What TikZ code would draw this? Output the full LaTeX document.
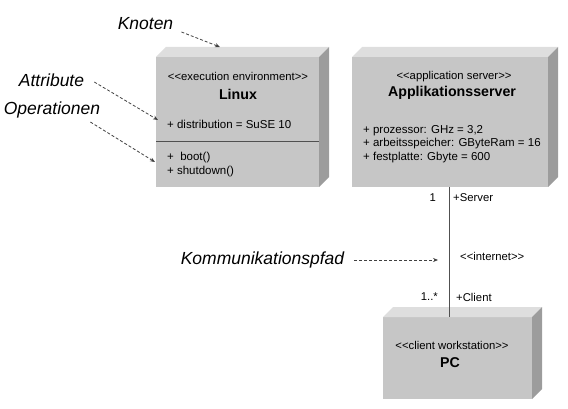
\documentclass[tikz,border=0pt]{standalone}
\usepackage{fontspec}
\setmainfont{Liberation Sans}
\usetikzlibrary{arrows.meta}

\definecolor{vorne}{HTML}{C6C6C6}
\definecolor{oben}{HTML}{DEDEDE}
\definecolor{rechts}{HTML}{9C9C9C}
\definecolor{linie}{HTML}{505050}
\definecolor{pfeilgrau}{HTML}{404040}

\begin{document}
\begin{tikzpicture}[x=1pt,y=-1pt,
		knoten/.style={
			fill=vorne,inner sep=0pt,outer sep=0pt,
		},
		deckel/.style={fill=oben},
		seite/.style={fill=rechts},
		stereo/.style={font=\fontsize{11.3}{13}\selectfont,inner sep=0pt},
		titel/.style={font=\fontsize{14.2}{16}\selectfont\bfseries,inner sep=0pt},
		eintrag/.style={
			font=\fontsize{11.5}{13.8}\selectfont,inner sep=0pt,anchor=west,align=left,
		},
		hinweis/.style={font=\fontsize{17.5}{20}\selectfont\itshape,inner sep=1pt},
		pfeil/.style={
			draw=pfeilgrau,dash pattern=on 3pt off 2pt,line width=.8pt,
			-{Stealth[length=5pt,width=4pt]},
		},
	]

	\useasboundingbox (0,0) rectangle (568,409);

	% the three nodes (front faces)
	\node [knoten,minimum width=163pt,minimum height=130pt] at (237.5,122) (linux) {};
	\node [knoten,minimum width=196pt,minimum height=130pt] at (450,122) (app) {};
	\node [knoten,minimum width=149pt,minimum height=82pt] at (457.5,358) (pc) {};

	% top and side faces
	\foreach \n in {linux,app,pc} {
		\fill [deckel] (\n.north west) -- ++(10,-10) -- ([shift={(10,-10)}]\n.north east) -- (\n.north east) -- cycle;
		\fill [seite] (\n.north east) -- ++(10,-10) -- ([shift={(10,-10)}]\n.south east) -- (\n.south east) -- cycle;
	}

	% Linux
	\node [stereo] at (238,76) (linux-st) {{<}{<}execution environment{>}{>}};
	\node [titel] at (238,94) (linux-name) {Linux};
	\node [eintrag] at (167,124) (linux-attr) {+ distribution = SuSE 10};
	\draw [linie,line width=1pt] ([yshift=-20pt]linux.west) -- ([yshift=-20pt]linux.east);
	\node [eintrag] at (167,164.5) (linux-ops) {+\ \ boot()\\+ shutdown()};

	% Applikationsserver
	\node [stereo] at (454,77) (app-st) {{<}{<}application server{>}{>}};
	\node [titel] at (452,93) (app-name) {Applikationsserver};
	\node [eintrag] at (363,144) (app-attr) {+ prozessor: GHz = 3,2\\+ arbeitsspeicher: GByteRam = 16\\+ festplatte: Gbyte = 600};

	% PC
	\node [stereo] at (452,345) (pc-st) {{<}{<}client workstation{>}{>}};
	\node [titel] at (450,363) (pc-name) {PC};

	% communication path
	\draw [linie,line width=1pt] (app.south -| 449,0) -- (pc.north -| 449,0);
	\node [stereo,anchor=east] at (436,198) (mult-server) {1};
	\node [stereo,anchor=west] at (453,198) (rolle-server) {+Server};
	\node [stereo,anchor=west] at (460,256) (pfad-st) {{<}{<}internet{>}{>}};
	\node [stereo,anchor=east] at (438,297) (mult-client) {1..*};
	\node [stereo,anchor=west] at (456,297) (rolle-client) {+Client};

	% explanations
	\node [hinweis] at (145.5,24) (lbl-knoten) {Knoten};
	\node [hinweis] at (51.5,80) (lbl-attr) {Attribute};
	\node [hinweis] at (52,110) (lbl-op) {Operationen};
	\node [hinweis] at (262.5,260) (lbl-pfad) {Kommunikationspfad};

	\coordinate (ziel-knoten) at (220,47);
	\coordinate (ziel-attr) at (158,120);
	\coordinate (ziel-op) at (155,162);
	\coordinate (ziel-pfad) at (438,260);

	\draw [pfeil] ([shift={(7,8)}]lbl-knoten.east) -- (ziel-knoten);
	\draw [pfeil] ([shift={(9,2)}]lbl-attr.east) -- (ziel-attr);
	\draw [pfeil] ([shift={(-11,12)}]lbl-op.east) -- (ziel-op);
	\draw [pfeil] ([xshift=9pt]lbl-pfad.east) -- (ziel-pfad);

\end{tikzpicture}
\end{document}
